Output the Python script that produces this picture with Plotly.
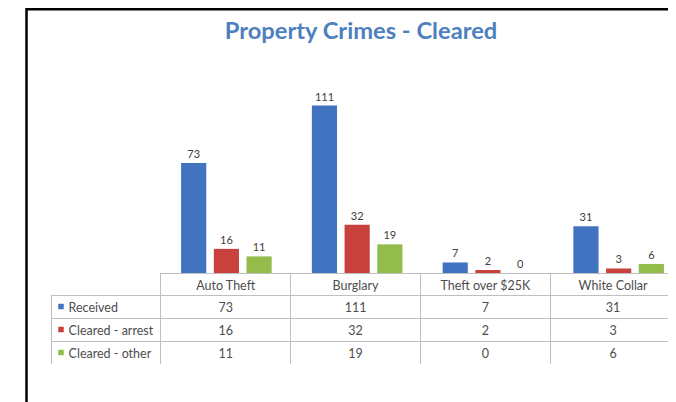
import plotly.graph_objects as go

# page body has an 8px margin, so the figure is shrunk and shifted to fit the window
W, H = 668, 394
OFF = 8

# data
categories = ["Auto Theft", "Burglary", "Theft over $25K", "White Collar"]
series_names = ["Received", "Cleared - arrest", "Cleared - other"]
received = [73, 111, 7, 31]
cleared_arrest = [16, 32, 2, 3]
cleared_other = [11, 19, 0, 6]
series_values = [received, cleared_arrest, cleared_other]
colors = ["#4273c0", "#c8413d", "#93bc4a"]

FONT = "Lato"
TXT = "#4d4d4d"
GRID = "#bfbfbf"
NBSP = "\u00a0"


def px_x(v):
    # screen pixel -> paper x
    return (v - OFF) / W


def px_y(v):
    # screen pixel -> paper y
    return (H - (v - OFF)) / H


fig = go.Figure()

for name, vals, col in zip(series_names, series_values, colors):
    fig.add_trace(go.Bar(
        x=categories, y=vals, name=name,
        marker=dict(color=col, line=dict(width=0)),
        text=vals, textposition="outside", cliponaxis=False,
        textfont=dict(family=FONT, size=11, color="#404040"),
        showlegend=False,
    ))

# data table under the bars (nbsp keeps plotly's table from wrapping the labels)
legend_col = [NBSP * 3 + n.replace(" ", NBSP) for n in series_names]
cell_cols = [legend_col] + [[str(s[i]) for s in series_values] for i in range(len(categories))]

fig.add_trace(go.Table(
    domain=dict(x=[px_x(51), 1], y=[px_y(365), px_y(273)]),
    columnwidth=[110, 130, 130, 130, 126],
    header=dict(
        values=[""] + categories,
        height=22,
        align="center",
        fill_color="rgba(0,0,0,0)",
        line=dict(color=["rgba(0,0,0,0)"] + [GRID] * 4, width=1),
        font=dict(family=FONT, size=12.5, color=TXT),
    ),
    cells=dict(
        values=cell_cols,
        height=23,
        align=["left", "center", "center", "center", "center"],
        fill_color="rgba(0,0,0,0)",
        line=dict(color=GRID, width=1),
        font=dict(family=FONT, size=12.5, color=TXT),
    ),
))

# legend keys in the first table column
fig.add_trace(go.Scatter(
    x=[0] * len(series_names), y=series_names, mode="markers",
    marker=dict(symbol="square", size=5.5, color=colors, line=dict(width=0)),
    xaxis="x2", yaxis="y2", showlegend=False, hoverinfo="skip",
))

fig.update_layout(
    width=W, height=H,
    margin=dict(l=0, r=0, t=0, b=0),
    paper_bgcolor="white", plot_bgcolor="rgba(0,0,0,0)",
    barmode="group", bargap=0.25, bargroupgap=0.23,
    title=dict(text="<b>Property Crimes - Cleared</b>", x=px_x(361), xanchor="center",
               y=px_y(31), yanchor="middle",
               font=dict(family=FONT, size=23.7, color="#4e7fbf")),
    xaxis=dict(domain=[px_x(161), 1], range=[-0.5, 3.5 - 8 / 130],
               showticklabels=False, showline=False, showgrid=False, zeroline=False,
               fixedrange=True),
    yaxis=dict(domain=[px_y(273), px_y(92)], range=[0, 120],
               visible=False, showgrid=False, zeroline=False),
    xaxis2=dict(domain=[px_x(51), px_x(161)], range=[-10, 100], visible=False,
                anchor="y2", fixedrange=True),
    yaxis2=dict(domain=[px_y(364), px_y(295)], range=[2.5, -0.5], visible=False,
                anchor="x2", type="category", fixedrange=True),
    shapes=[dict(type="path", xref="paper", yref="paper",
                 path=f"M {px_x(26.5)},0 L {px_x(26.5)},{px_y(9.3)} L 1,{px_y(9.3)}",
                 line=dict(color="black", width=2.5))],
)

fig.write_html("out.html")
